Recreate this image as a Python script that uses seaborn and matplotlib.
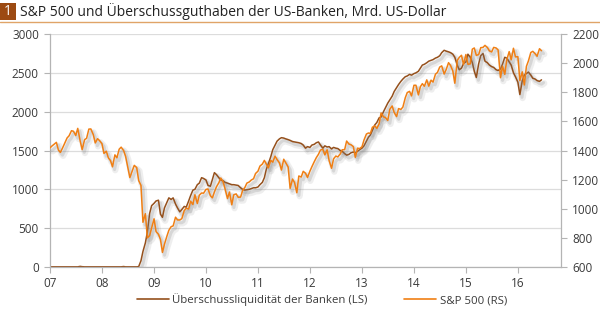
import numpy as np
import pandas as pd
import matplotlib
matplotlib.use("Agg")
import matplotlib.pyplot as plt
import matplotlib.patheffects as pe
from matplotlib.patches import Rectangle
from matplotlib.lines import Line2D
import seaborn as sns

# ---------------- data (semi-monthly, 1st and 15th, Jan 2007 - Jun 2016) ----------------
excess_liquidity = [
    # 2007
    2, 2, 2, 2, 2, 2, 2, 2, 2, 2, 2, 2, 2, 2, 8, 4, 2, 2, 2, 2, 2, 2, 2, 2,
    # 2008
    2, 2, 2, 2, 2, 2, 2, 2, 2, 2, 6, 2, 2, 2, 2, 2, 2, 5, 80, 200, 310, 450, 690, 790,
    # 2009
    820, 850, 860, 680, 640, 760, 830, 890, 870, 890, 810, 760,
    710, 740, 780, 770, 850, 920, 990, 1000, 1060, 1080, 1150, 1140,
    # 2010
    1120, 1050, 1040, 1130, 1215, 1190, 1150, 1120, 1110, 1090, 1080, 1070,
    1060, 1060, 1055, 1050, 1020, 1000, 990, 995, 1000, 1010, 1020, 1020,
    # 2011
    1030, 1060, 1090, 1150, 1260, 1330, 1420, 1510, 1570, 1620, 1650, 1665,
    1660, 1650, 1640, 1630, 1615, 1610, 1605, 1600, 1590, 1570, 1530, 1550,
    # 2012
    1540, 1570, 1580, 1600, 1610, 1570, 1530, 1560, 1545, 1550, 1520, 1540,
    1530, 1525, 1500, 1490, 1460, 1440, 1450, 1470, 1480, 1470, 1490, 1510,
    # 2013
    1530, 1560, 1620, 1670, 1700, 1760, 1830, 1860, 1920, 1930, 2000, 2050,
    2110, 2150, 2200, 2260, 2310, 2350, 2390, 2420, 2450, 2460, 2480, 2470,
    # 2014
    2490, 2500, 2520, 2560, 2600, 2610, 2630, 2650, 2660, 2670, 2690, 2700,
    2720, 2760, 2790, 2780, 2770, 2760, 2740, 2700, 2600, 2540, 2560, 2620,
    # 2015
    2640, 2740, 2700, 2630, 2520, 2440, 2620, 2720, 2750, 2650, 2630, 2600,
    2580, 2570, 2540, 2530, 2550, 2610, 2700, 2690, 2640, 2600, 2500, 2450,
    # 2016
    2380, 2220, 2400, 2470, 2490, 2510, 2470, 2430, 2420, 2400, 2390, 2410,
]

sp500 = [
    # 2007
    1418, 1431, 1445, 1456, 1403, 1387, 1421, 1452, 1486, 1501, 1536, 1532,
    1503, 1552, 1465, 1406, 1474, 1484, 1547, 1548, 1509, 1452, 1481, 1468,
    # 2008
    1447, 1380, 1395, 1349, 1331, 1288, 1370, 1350, 1409, 1423, 1400, 1360,
    1284, 1214, 1260, 1298, 1283, 1193, 1161, 907, 966, 800, 816, 869,
    # 2009
    931, 843, 825, 789, 700, 756, 811, 852, 877, 882, 942, 923,
    923, 932, 987, 1004, 998, 1052, 1029, 1096, 1036, 1093, 1108, 1107,
    # 2010
    1133, 1136, 1089, 1075, 1115, 1150, 1178, 1211, 1186, 1136, 1070, 1115,
    1027, 1096, 1102, 1079, 1080, 1125, 1146, 1176, 1184, 1197, 1206, 1242,
    # 2011
    1258, 1293, 1307, 1332, 1306, 1281, 1332, 1320, 1361, 1338, 1315, 1266,
    1340, 1316, 1287, 1140, 1204, 1180, 1110, 1225, 1218, 1257, 1244, 1215,
    # 2012
    1258, 1289, 1324, 1351, 1374, 1403, 1408, 1370, 1405, 1330, 1278, 1342,
    1362, 1356, 1376, 1405, 1406, 1465, 1444, 1440, 1427, 1353, 1416, 1413,
    # 2013
    1426, 1472, 1513, 1520, 1518, 1560, 1569, 1552, 1582, 1658, 1631, 1626,
    1606, 1682, 1706, 1661, 1633, 1688, 1682, 1698, 1762, 1798, 1806, 1775,
    # 2014
    1848, 1848, 1782, 1838, 1859, 1841, 1885, 1842, 1883, 1870, 1924, 1936,
    1973, 1981, 1925, 1955, 2003, 1984, 1946, 1862, 2018, 2039, 2054, 1990,
    # 2015
    2059, 1992, 1995, 2096, 2104, 2053, 2059, 2106, 2108, 2122, 2107, 2084,
    2077, 2108, 2104, 2091, 1900, 1979, 1923, 2023, 2079, 2023, 2102, 2043,
    # 2016
    2044, 1880, 1940, 1850, 1978, 2015, 2073, 2081, 2065, 2047, 2099, 2085,
]

year_labels = ["07", "08", "09", "10", "11", "12", "13", "14", "15", "16"]
left_ticks = [0, 500, 1000, 1500, 2000, 2500, 3000]
right_ticks = [600, 800, 1000, 1200, 1400, 1600, 1800, 2000, 2200]

title = "S&P 500 und Überschussguthaben der US-Banken, Mrd. US-Dollar"
label_liq = "Überschussliquidität der Banken (LS)"
label_spx = "S&P 500 (RS)"

dates = pd.date_range("2007-01-01", periods=len(sp500), freq="SMS")
df = pd.DataFrame({"date": dates, "liq": excess_liquidity, "spx": sp500})

# ---------------- style ----------------
BROWN = "#95501c"
ORANGE = "#f07f14"
BOX = "#9c4a12"
GRID = "#dcdcdc"
SPINE = "#b4b4b4"
TXT = "#3a3a3a"

sns.set_style("white")
plt.rcParams["font.family"] = ["Open Sans", "DejaVu Sans"]

W, H = 600, 313
fig = plt.figure(figsize=(W / 100, H / 100), dpi=100)
ax = fig.add_axes([50 / W, 46 / H, 511 / W, 233 / H])
ax2 = ax.twinx()

shadow = [
    pe.SimpleLineShadow(offset=(2, -2.5), shadow_color="#7a7a7a", alpha=0.12, linewidth=4.5),
    pe.SimpleLineShadow(offset=(1.5, -2), shadow_color="#7a7a7a", alpha=0.2, linewidth=2.2),
    pe.Normal(),
]

sns.lineplot(data=df, x="date", y="liq", ax=ax, color=BROWN, lw=1.1,
             path_effects=shadow, legend=False)
sns.lineplot(data=df, x="date", y="spx", ax=ax2, color=ORANGE, lw=1.1,
             path_effects=shadow, legend=False)

ax.set_ylim(0, 3000)
ax2.set_ylim(600, 2200)
ax.set_xlim(pd.Timestamp("2007-01-01"), pd.Timestamp("2016-10-30"))

ax.set_yticks(left_ticks)
ax.set_yticklabels([str(v) for v in left_ticks])
ax2.set_yticks(right_ticks)
ax2.set_yticklabels([str(v) for v in right_ticks])
xt = [pd.Timestamp(f"20{y}-01-01") for y in year_labels]
ax.set_xticks(xt)
ax.set_xticklabels(year_labels)

ax.set_xlabel("")
ax.set_ylabel("")
ax2.set_ylabel("")

ax.yaxis.grid(True, color=GRID, lw=0.9)
ax.xaxis.grid(False)
ax2.grid(False)
ax.set_axisbelow(True)

for a in (ax, ax2):
    a.spines["top"].set_visible(False)
    for s in ("left", "right", "bottom"):
        a.spines[s].set_color(SPINE)
        a.spines[s].set_linewidth(0.9)
ax.spines["right"].set_visible(False)
ax2.spines["left"].set_visible(False)
ax2.spines["bottom"].set_visible(False)

ax.tick_params(axis="y", left=True, length=4, width=0.8, color=SPINE,
               labelsize=8.5, labelcolor=TXT, pad=4)
ax.tick_params(axis="x", bottom=True, length=4, width=0.8, color=SPINE,
               labelsize=8.5, labelcolor=TXT, pad=3)
ax2.tick_params(axis="y", right=True, length=4, width=0.8, color=SPINE,
                labelsize=8.5, labelcolor=TXT, pad=4)

# legend
handles = [Line2D([], [], color=BROWN, lw=1.2), Line2D([], [], color=ORANGE, lw=1.2)]
fig.legend(handles, [label_liq, label_spx], loc="center",
           bbox_to_anchor=(322 / W, 1 - 300 / H), ncol=2, frameon=False,
           fontsize=8.2, handlelength=2.8, handletextpad=0.3, columnspacing=3.2,
           labelcolor=TXT)

# title bar
fig.add_artist(Rectangle((0, 1 - 20 / H), 16 / W, 17 / H, transform=fig.transFigure,
                         facecolor=BOX, edgecolor="none"))
fig.text(8 / W, 1 - 11.5 / H, "1", color="white", ha="center", va="center", fontsize=10)
fig.text(20 / W, 1 - 11.5 / H, title, color="#222222", ha="left", va="center", fontsize=10)
fig.add_artist(Line2D([0, 1], [1 - 21.5 / H] * 2, transform=fig.transFigure,
                      color="#e0a468", lw=1))

fig.savefig("out.png", dpi=100)
